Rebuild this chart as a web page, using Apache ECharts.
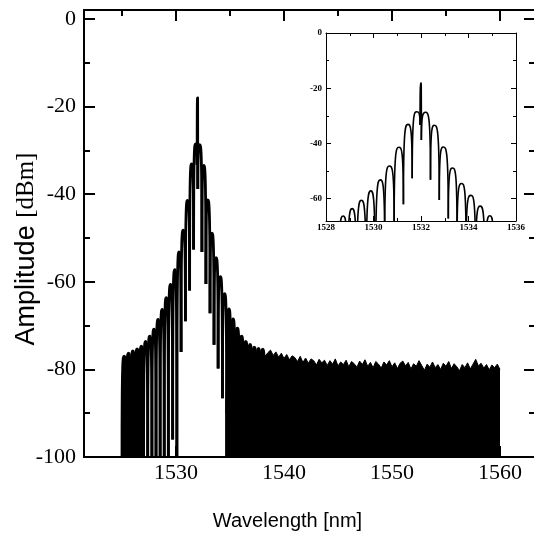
<!DOCTYPE html>
<html><head><meta charset="utf-8">
<script src="https://cdn.jsdelivr.net/npm/echarts@6/dist/echarts.min.js"></script>
<style>html,body{margin:0;padding:0;background:#fff}#c{width:534px;height:533px}</style>
</head><body><div id="c"></div>
<script>
// Comb spectrum: lobe peaks (nm, dBm) and the nulls between them
const peakX = [1525.20,1525.60,1526.00,1526.40,1526.79,1527.18,1527.57,1527.96,1528.34,1528.72,1529.10,1529.49,1529.89,1530.28,1530.67,1531.07,1531.45,1531.82,1532.00,1532.19,1532.56,1532.94,1533.33,1533.71,1534.10,1534.50,1534.90,1535.28,1535.68,1536.07,1536.46,1536.86,1537.25,1537.64,1538.03];
const peakY = [-77.0,-76.3,-75.8,-75.3,-74.7,-73.6,-72.4,-70.8,-68.6,-66.3,-63.6,-60.6,-57.2,-53.2,-48.2,-41.4,-33.1,-28.5,-18.0,-28.7,-33.4,-41.3,-48.9,-54.5,-58.8,-62.7,-66.2,-68.5,-70.6,-72.4,-73.6,-74.3,-74.9,-75.2,-75.4];
const nullX = [1525.00,1525.40,1525.80,1526.20,1526.60,1527.00,1527.38,1527.77,1528.15,1528.53,1528.91,1529.29,1529.69,1530.08,1530.47,1530.87,1531.26,1531.63,1531.96,1532.015,1532.40,1532.77,1533.15,1533.52,1533.90,1534.30,1534.70,1535.09,1535.48,1535.88,1536.27,1536.66,1537.05,1537.45,1537.84,1538.23];
const nullY = [-100,-100,-100,-100,-100,-100,-100,-100,-100,-100,-100,-100,-96,-100,-76,-69,-62,-52.6,-33.3,-38.8,-53.2,-60.5,-67.2,-74.4,-79.8,-86.6,-100,-100,-100,-100,-100,-100,-100,-100,-100,-100];

// Noise floor (top of the dense black band)
const noiseLeftX = [1525.0,1525.2,1525.4,1525.6,1525.8,1526.0,1526.2,1526.4,1526.6,1526.8,1527.0];
const noiseLeftY = [-77.6,-77.2,-78.6,-76.5,-78.0,-76.0,-77.4,-75.5,-77.0,-75.0,-76.5];
const noiseRightX = [1534.6,1534.75,1534.9,1535.09,1535.28,1535.48,1535.68,1535.88,1536.07,1536.27,1536.46,1536.66,1536.86,1537.05,1537.25,1537.45,1537.64,1537.84,1538.03,1538.25,
  1538.50,1538.75,1539.00,1539.25,1539.50,1539.75,1540.00,1540.25,1540.50,1540.75,1541.00,1541.25,1541.50,1541.75,1542.00,1542.25,1542.50,1542.75,1543.00,1543.25,1543.50,1543.75,1544.00,1544.25,1544.50,1544.75,
  1545.00,1545.25,1545.50,1545.75,1546.00,1546.25,1546.50,1546.75,1547.00,1547.25,1547.50,1547.75,1548.00,1548.25,1548.50,1548.75,1549.00,1549.25,1549.50,1549.75,
  1550.00,1550.25,1550.50,1550.75,1551.00,1551.25,1551.50,1551.75,1552.00,1552.25,1552.50,1552.75,1553.00,1553.25,1553.50,1553.75,1554.00,1554.25,1554.50,1554.75,
  1555.00,1555.25,1555.50,1555.75,1556.00,1556.25,1556.50,1556.75,1557.00,1557.25,1557.50,1557.75,1558.00,1558.25,1558.50,1558.75,1559.00,1559.25,1559.50,1559.75,1560.00];
const noiseRightY = [-90,-72,-67,-74,-69.5,-75,-71.5,-75.5,-73,-76,-74.2,-76.5,-75,-77,-75.5,-77,-75.6,-77.2,-75.8,-77,
  -76.2,-75.6,-76.8,-76.0,-77.2,-76.3,-77.5,-76.6,-77.8,-76.9,-77.3,-78.2,-77.0,-78.4,-77.4,-78.6,-77.6,-78.0,-79.0,-77.7,-78.5,-77.9,-79.1,-78.0,-78.8,-77.6,
  -79.2,-78.3,-78.9,-77.9,-79.4,-78.2,-78.7,-79.5,-78.1,-78.9,-77.8,-79.3,-78.4,-79.6,-78.2,-78.8,-79.7,-78.3,-79.0,-78.0,
  -79.4,-78.5,-79.8,-78.6,-78.1,-79.2,-78.4,-79.9,-78.7,-79.3,-78.0,-79.1,-80.2,-78.8,-79.5,-78.3,-79.6,-78.9,-80.0,-78.6,
  -79.3,-78.2,-79.8,-78.7,-79.4,-80.3,-78.9,-79.6,-78.5,-79.9,-78.8,-77.7,-79.2,-78.6,-79.7,-78.9,-80.1,-79.0,-79.6,-78.8,-80.0];

// Tick values
const mainXTicks = [1530,1540,1550,1560];
const mainXMinor = [1525,1535,1545,1555];
const mainYTicks = [-100,-80,-60,-40,-20,0];
const mainYMinor = [-90,-70,-50,-30,-10];
const insetXTicks = [1528,1530,1532,1534,1536];
const insetXMinor = [1529,1531,1533,1535];
const insetYTicks = [-60,-40,-20,0];
const insetYMinor = [-50,-30,-10];

// one item per lobe: left null, peak, right null
const lobeItems = peakX.map((x, i) => [nullX[i], nullY[i], x, peakY[i], nullX[i+1], nullY[i+1]]);
const noiseData = [];
noiseLeftX.forEach((x,i)=>noiseData.push([x, noiseLeftY[i]]));
noiseData.push([1530, '-']);
noiseRightX.forEach((x,i)=>noiseData.push([x, noiseRightY[i]]));

const MAIN = {xmin:1521.48, xmax:1563.24, ymin:-100, ymax:2.05};
const INS = {xmin:1528, xmax:1536, ymin:-68.1, ymax:0};

function lobeRenderer(width) {
  return function (params, api) {
    const a = api.coord([api.value(0), api.value(1)]);
    const p = api.coord([api.value(2), api.value(3)]);
    const b = api.coord([api.value(4), api.value(5)]);
    const dl = p[0] - a[0], dr = b[0] - p[0];
    const d = 'M' + a[0] + ' ' + a[1] +
      ' C' + a[0] + ' ' + p[1] + ' ' + (p[0] - 0.55 * dl) + ' ' + p[1] + ' ' + p[0] + ' ' + p[1] +
      ' C' + (p[0] + 0.55 * dr) + ' ' + p[1] + ' ' + b[0] + ' ' + p[1] + ' ' + b[0] + ' ' + b[1];
    return {type:'path', shape:{pathData:d}, style:{fill:null, stroke:'#000', lineWidth:width}};
  };
}

const fmt = v => String(Math.round(v));
function ax(grid, pos, min, max, ticks, len, w, showLine, label) {
  return {
    type:'value', gridIndex:grid, position:pos, min:min, max:max,
    axisLine:{show:showLine, onZero:false, lineStyle:{color:'#000', width:w}},
    axisTick:{show:true, inside:true, length:len, customValues:ticks, lineStyle:{color:'#000', width:w}},
    axisLabel: label ? Object.assign({show:true, customValues:ticks, color:'#000', formatter:fmt}, label) : {show:false},
    splitLine:{show:false}
  };
}
const mainLbl = {fontFamily:'Liberation Serif', fontSize:22};
const insLbl = {fontFamily:'Liberation Serif', fontSize:9, fontWeight:'bold'};

const xAxes = [
  Object.assign(ax(0,'bottom',MAIN.xmin,MAIN.xmax,mainXTicks,11,2,true,Object.assign({margin:5},mainLbl)), {
    name:'Wavelength [nm]', nameLocation:'middle', nameGap:54, nameMoveOverlap:false,
    nameTextStyle:{fontFamily:'Liberation Sans', fontSize:20, color:'#000', padding:[0,44,0,0]}
  }),
  ax(0,'bottom',MAIN.xmin,MAIN.xmax,mainXMinor,6,2,false,null),
  ax(0,'top',MAIN.xmin,MAIN.xmax,mainXTicks,11,2,true,null),
  ax(0,'top',MAIN.xmin,MAIN.xmax,mainXMinor,6,2,false,null),
  ax(1,'bottom',INS.xmin,INS.xmax,insetXTicks,5,1,true,Object.assign({margin:2},insLbl)),
  ax(1,'bottom',INS.xmin,INS.xmax,insetXMinor,3,1,false,null),
  ax(1,'top',INS.xmin,INS.xmax,insetXTicks,5,1,true,null),
  ax(1,'top',INS.xmin,INS.xmax,insetXMinor,3,1,false,null)
];
const yAxes = [
  Object.assign(ax(0,'left',MAIN.ymin,MAIN.ymax,mainYTicks,11,2,true,Object.assign({margin:8},mainLbl)), {
    name:'{a|Amplitude} {b|[dBm]}', nameLocation:'middle', nameGap:44, nameMoveOverlap:false,
    nameTextStyle:{color:'#000', fontSize:27, fontFamily:'Liberation Sans', padding:[0,31,0,0],
      rich:{a:{fontFamily:'Liberation Sans', fontSize:27, color:'#000'}, b:{fontFamily:'Liberation Serif', fontSize:25, color:'#000'}}}
  }),
  ax(0,'left',MAIN.ymin,MAIN.ymax,mainYMinor,6,2,false,null),
  ax(0,'right',MAIN.ymin,MAIN.ymax,mainYTicks,11,2,true,null),
  ax(0,'right',MAIN.ymin,MAIN.ymax,mainYMinor,6,2,false,null),
  ax(1,'left',INS.ymin,INS.ymax,insetYTicks,5,1,true,Object.assign({margin:4},insLbl)),
  ax(1,'left',INS.ymin,INS.ymax,insetYMinor,3,1,false,null),
  ax(1,'right',INS.ymin,INS.ymax,insetYTicks,5,1,true,null),
  ax(1,'right',INS.ymin,INS.ymax,insetYMinor,3,1,false,null)
];

const chart = echarts.init(document.getElementById('c'), null, {renderer:'canvas', width:534, height:533});
chart.setOption({
  animation:false,
  backgroundColor:'#fff',
  grid:[
    {left:84, top:10, width:451, height:447, containLabel:false, outerBoundsMode:'none'},
    {left:326, top:33, width:190, height:188, containLabel:false, outerBoundsMode:'none', show:true, backgroundColor:'#fff', borderWidth:0}
  ],
  xAxis:xAxes,
  yAxis:yAxes,
  series:[
    {type:'line', xAxisIndex:0, yAxisIndex:0, data:noiseData, symbol:'none', connectNulls:false,
     lineStyle:{color:'#000', width:1}, areaStyle:{color:'#000', opacity:1, origin:'start'}, z:2},
    {type:'custom', xAxisIndex:0, yAxisIndex:0, data:lobeItems, clip:true, z:3,
     encode:{x:[0,2,4], y:[1,3,5]}, renderItem:lobeRenderer(2.8)},
    {type:'custom', xAxisIndex:4, yAxisIndex:4, data:lobeItems, clip:true, z:3,
     encode:{x:[0,2,4], y:[1,3,5]}, renderItem:lobeRenderer(1.6)}
  ]
});
</script></body></html>
